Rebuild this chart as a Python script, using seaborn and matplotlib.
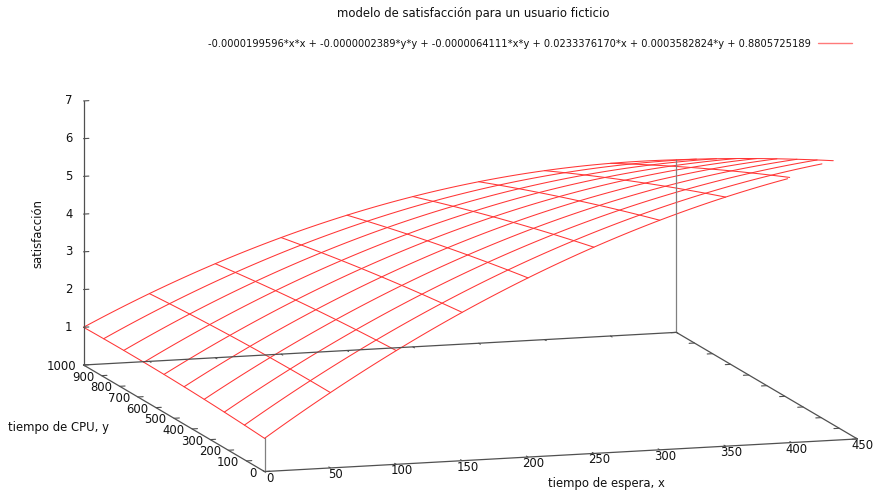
import numpy as np
import matplotlib
matplotlib.use("Agg")
import matplotlib.pyplot as plt
import seaborn as sns
from matplotlib import font_manager as fm
from mpl_toolkits.mplot3d import proj3d

coef_xx = -0.0000199596
coef_yy = -0.0000002389
coef_xy = -0.0000064111
coef_x = 0.0233376170
coef_y = 0.0003582824
coef_c = 0.8805725189

x_range = [0, 450]
y_range = [0, 1000]
z_range = [0, 7]
x_ticks = [0, 50, 100, 150, 200, 250, 300, 350, 400, 450]
y_ticks = [0, 100, 200, 300, 400, 500, 600, 700, 800, 900, 1000]
z_ticks = [1, 2, 3, 4, 5, 6, 7]
n_iso = 10        # isolines in each direction
n_samples = 100   # samples along each isoline

title = "modelo de satisfacción para un usuario ficticio"
x_label = "tiempo de espera, x"
y_label = "tiempo de CPU, y"
z_label = "satisfacción"
formula = (f"{coef_xx:.10f}*x*x + {coef_yy:.10f}*y*y + {coef_xy:.10f}*x*y + "
           f"{coef_x:.10f}*x + {coef_y:.10f}*y + {coef_c:.10f}")


def surface(x, y):
    return (coef_xx * x * x + coef_yy * y * y + coef_xy * x * y
            + coef_x * x + coef_y * y + coef_c)


# ---------------- style ----------------
sns.set_theme(style="white")
plt.rcParams["font.family"] = ["DejaVu Sans"]
FS = 8.4
W, H = 880, 494
RED = "#ff3535"
BORDER = "#505050"
TXT = "#111111"

fig = plt.figure(figsize=(W / 100, H / 100), dpi=100)
fig.patch.set_facecolor("white")
ax = fig.add_axes([0.1, 0.1, 0.8, 0.8], projection="3d", proj_type="ortho")
ax.set_xlim(*x_range)
ax.set_ylim(*y_range)
ax.set_zlim(*z_range)
ax.view_init(elev=10.37, azim=-107.0)
ax.set_box_aspect((619.8, 619.0, 268.4))
ax.set_axis_off()


def clipped_runs(xs, ys, zs, zlo, zhi):
    runs, cur = [], []
    inside = (zs >= zlo) & (zs <= zhi)
    for i in range(len(xs)):
        if inside[i]:
            if not cur and i > 0:
                j = i - 1
                zb = zhi if zs[j] > zhi else zlo
                t = (zb - zs[j]) / (zs[i] - zs[j])
                cur.append((xs[j] + t * (xs[i] - xs[j]), ys[j] + t * (ys[i] - ys[j]), zb))
            cur.append((xs[i], ys[i], zs[i]))
        elif cur:
            j = i - 1
            zb = zhi if zs[i] > zhi else zlo
            t = (zb - zs[j]) / (zs[i] - zs[j])
            cur.append((xs[j] + t * (xs[i] - xs[j]), ys[j] + t * (ys[i] - ys[j]), zb))
            runs.append(np.array(cur))
            cur = []
    if cur:
        runs.append(np.array(cur))
    return runs


# ---------------- surface isolines ----------------
iso_x = np.linspace(x_range[0], x_range[1], n_iso)
iso_y = np.linspace(y_range[0], y_range[1], n_iso)
samp_x = np.linspace(x_range[0], x_range[1], n_samples)
samp_y = np.linspace(y_range[0], y_range[1], n_samples)
legend_line = None
for yv in iso_y:
    ys = np.full_like(samp_x, yv)
    for run in clipped_runs(samp_x, ys, surface(samp_x, ys), *z_range):
        ln, = ax.plot(run[:, 0], run[:, 1], run[:, 2], color=RED, lw=0.75)
        if legend_line is None:
            legend_line = ln
for xv in iso_x:
    xs = np.full_like(samp_y, xv)
    for run in clipped_runs(xs, samp_y, surface(xs, samp_y), *z_range):
        ax.plot(run[:, 0], run[:, 1], run[:, 2], color=RED, lw=0.75)

# ---------------- box: base edges, z axis, corner verticals ----------------
x0, x1 = x_range
y0, y1 = y_range
z0, z1 = z_range
bkw = dict(color=BORDER, lw=0.9)
ax.plot([x0, x1], [y0, y0], [z0, z0], **bkw)
ax.plot([x0, x1], [y1, y1], [z0, z0], **bkw)
ax.plot([x0, x0], [y0, y1], [z0, z0], **bkw)
ax.plot([x1, x1], [y0, y1], [z0, z0], **bkw)
ax.plot([x0, x0], [y1, y1], [z0, z1], **bkw)
for cx, cy in [(x0, y0), (x1, y1), (x1, y0)]:
    zc = surface(cx, cy)
    if z0 <= zc <= z1:
        ax.plot([cx, cx], [cy, cy], [z0, zc], color="#808080", lw=0.9)

# ticks
tf = 0.009
lx = tf * (x1 - x0)
ly = tf * (y1 - y0)
tkw = dict(color=BORDER, lw=0.8)
for xv in x_ticks:
    ax.plot([xv, xv], [y0, y0 + ly], [z0, z0], **tkw)
    ax.plot([xv, xv], [y1, y1 - ly], [z0, z0], **tkw)
for yv in y_ticks:
    ax.plot([x0, x0 + lx], [yv, yv], [z0, z0], **tkw)
    ax.plot([x1, x1 - lx], [yv, yv], [z0, z0], **tkw)
for zv in z_ticks:
    ax.plot([x0, x0 + lx], [y1, y1], [zv, zv], **tkw)

# ---------------- fit the 3D box onto the reference geometry ----------------
anchor_data = np.array([(0, 0, 0), (450, 0, 0), (0, 1000, 0), (450, 1000, 0), (0, 1000, 7)], float)
anchor_px = np.array([(265, 471.5), (857, 439), (83.3, 365), (676.7, 332.3), (83.3, 101)], float)
anchor_disp = np.c_[anchor_px[:, 0], H - anchor_px[:, 1]]


def to_display(pts):
    pts = np.asarray(pts, float)
    px_, py_, _ = proj3d.proj_transform(pts[:, 0], pts[:, 1], pts[:, 2], ax.get_proj())
    return ax.transData.transform(np.c_[px_, py_])


for _ in range(2):
    fig.canvas.draw()
    disp = to_display(anchor_data)
    bb = ax.get_position()
    L = bb.width * W
    c = np.array([(bb.x0 + bb.x1) / 2 * W, (bb.y0 + bb.y1) / 2 * H])
    u = (disp - c) / L
    A, b = [], []
    for (ux, uy), (tx, ty) in zip(u, anchor_disp):
        A.append([1, 0, ux]); b.append(tx)
        A.append([0, 1, uy]); b.append(ty)
    sol, *_ = np.linalg.lstsq(np.array(A), np.array(b), rcond=None)
    ncx, ncy, nL = sol
    ax.set_position([(ncx - nL / 2) / W, (ncy - nL / 2) / H, nL / W, nL / H])

fig.canvas.draw()

# ---------------- tick labels at the projected tick positions ----------------
def label_at(pt3, s, dx, dy, **kw):
    d = to_display([pt3])[0]
    fig.text((d[0] + dx) / W, (d[1] + dy) / H, s, fontsize=FS, color=TXT, **kw)


for xv in x_ticks:
    label_at((xv, y0, z0), f"{xv}", 5.5, -6.5, ha="center", va="center")
for yv in y_ticks:
    label_at((x0, yv, z0), f"{yv}", -7.5, -1.5, ha="right", va="center")
for zv in z_ticks:
    label_at((x0, y1, zv), f"{zv}", -11, 0, ha="right", va="center")

# ---------------- labels, title ----------------
fig.text(606 / W, 1 - 483 / H, x_label, ha="center", va="center", fontsize=FS, color=TXT)
fig.text(8 / W, 1 - 428 / H, y_label, ha="left", va="center", fontsize=FS, color=TXT)
fig.text(38 / W, 1 - 233 / H, z_label, ha="center", va="center", rotation=90,
         fontsize=FS, color=TXT)
fig.text(473 / W, 1 - 14 / H, title, ha="center", va="center", fontsize=FS, color=TXT)

# legend (condensed font if available)
cond = [f.fname for f in fm.fontManager.ttflist
        if "DejaVuSansCondensed.ttf" in f.fname]
if cond:
    leg_fp = fm.FontProperties(fname=cond[0], size=FS)
else:
    leg_fp = fm.FontProperties(family="DejaVu Sans", size=FS)
leg = fig.legend(handles=[legend_line], labels=[formula], loc="center right",
                 bbox_to_anchor=(852 / W, 1 - 44 / H), frameon=False, markerfirst=False,
                 handlelength=2.9, handletextpad=0.6, borderpad=0, borderaxespad=0,
                 prop=leg_fp)
for t in leg.get_texts():
    t.set_color(TXT)
for hl in leg.get_lines():
    hl.set_color("#ff7a7a")
    hl.set_linewidth(1.0)

fig.canvas.draw()
r = fig.canvas.get_renderer()
wtxt = leg.get_texts()[0].get_window_extent(r).width
leg_fp.set_size(FS * 610 / wtxt)
for t in leg.get_texts():
    t.set_fontproperties(leg_fp)

fig.savefig("out.png", dpi=100, facecolor="white")
